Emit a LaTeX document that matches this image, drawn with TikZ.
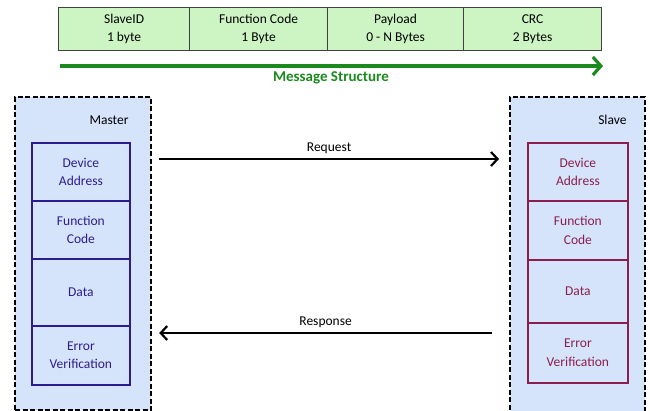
\documentclass[tikz,border=0pt]{standalone}
\usepackage{fontspec}
\setmainfont{Carlito}
\usetikzlibrary{arrows.meta}
\definecolor{cellgreen}{HTML}{CDF5C3}
\definecolor{msggreen}{HTML}{1B8A1E}
\definecolor{boxblue}{HTML}{D6E4FB}
\definecolor{mastertxt}{HTML}{2C1C8E}
\definecolor{slavetxt}{HTML}{8A1E4E}
\tikzset{
  cell/.style={draw=black!75, line width=1.2pt, fill=cellgreen, rectangle, inner sep=0pt,
    minimum height=43pt, anchor=north west, align=center, font=\fontsize{13.5}{18}\selectfont},
  device/.style={draw=black, line width=2.2pt, dash pattern=on 5pt off 2.5pt, fill=boxblue,
    rectangle, inner sep=0pt, anchor=north west},
  field/.style={rectangle, inner sep=0pt, anchor=north west, align=center,
    line width=1.8pt, minimum width=98pt, font=\fontsize{13.5}{18.5}\selectfont},
  mfield/.style={field, draw=mastertxt, text=mastertxt},
  sfield/.style={field, draw=slavetxt, text=slavetxt},
  label/.style={font=\fontsize{13.5}{16}\selectfont},
  msgarrow/.style={line width=2.2pt, -{Straight Barb[length=6.5pt,width=14pt,line width=2.2pt]}},
}
\begin{document}
\begin{tikzpicture}[x=1pt,y=-1pt]
\useasboundingbox (0,0) rectangle (650,410);

% message frame layout
\node[cell, minimum width=131pt] (sid) at (58,7) {SlaveID\\1 byte};
\node[cell, minimum width=138pt] (fc) at (189,7) {Function Code\\1 Byte};
\node[cell, minimum width=136pt] (pl) at (327,7) {Payload\\0 - N Bytes};
\node[cell, minimum width=138pt] (crc) at (463,7) {CRC\\2 Bytes};

\coordinate (msgS) at (60,66);
\coordinate (msgE) at (603,66);
\draw[msggreen, line width=3.2pt, -{Straight Barb[length=8pt,width=18pt,line width=3.2pt]}] (msgS) -- (msgE);
\node[text=msggreen, font=\fontsize{15}{16}\selectfont\bfseries] (msgtitle) at (331,78) {Message Structure};

% master and slave devices
\node[device, minimum width=136pt, minimum height=313pt] (master) at (14,96) {};
\node[device, minimum width=135pt, minimum height=315pt] (slave) at (509,96) {};
\node[label, anchor=east] (mastername) at (132,120) {Master};
\node[label, anchor=east] (slavename) at (630,120) {Slave};

% master fields
\node[mfield, minimum height=58pt] (mda) at (31,142) {Device\\Address};
\node[mfield, minimum height=58pt] (mfc) at (31,200) {Function\\Code};
\node[mfield, minimum height=67pt] (mdt) at (31,258) {Data};
\node[mfield, minimum height=59pt] (mev) at (31,325) {Error\\Verification};

% slave fields
\node[sfield, minimum width=100pt, minimum height=58pt] (sda) at (527,142) {Device\\Address};
\node[sfield, minimum width=100pt, minimum height=59pt] (sfc) at (527,200) {Function\\Code};
\node[sfield, minimum width=100pt, minimum height=63pt] (sdt) at (527,259) {Data};
\node[sfield, minimum width=100pt, minimum height=60pt] (sev) at (527,322) {Error\\Verification};

% request / response
\draw[msgarrow] ([xshift=7pt]master.east |- 0,159) -- ([xshift=-10pt]slave.west |- 0,159)
  node[midway, above=0.5pt, label] (reqlbl) {Request};
\draw[msgarrow] ([xshift=-17pt]slave.west |- 0,333) -- ([xshift=7pt]master.east |- 0,333)
  node[midway, above=0.5pt, label] (reslbl) {Response};
\end{tikzpicture}
\end{document}
